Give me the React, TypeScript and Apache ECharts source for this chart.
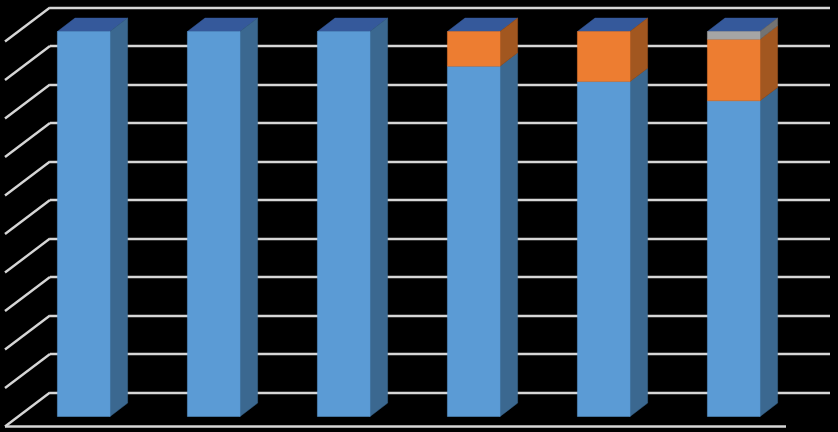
import React, { useEffect, useRef } from "react";
import * as echarts from "echarts";

const categories = ["1", "2", "3", "4", "5", "6"];
const blueValues = [100, 100, 100, 91, 87, 82];
const orangeValues = [0, 0, 0, 9, 13, 16];
const greyValues = [0, 0, 0, 0, 0, 2];
const wallTicks = [0, 10, 20, 30, 40, 50, 60, 70, 80, 90, 100];

const WIDTH = 838;
const HEIGHT = 432;
const BAR_WIDTH = 52.6;
const DEPTH_X = 17.6;
const DEPTH_Y = 13.4;
const WALL_DX = -45;
const WALL_DY = 34;
const FLOOR_LENGTH = 781;
const LINE = { stroke: "#d6d6d6", lineWidth: 2.4 };

function stackOf(lower: number[][], values: number[]) {
  return values.map((v, i) => {
    const start = lower.reduce((sum, s) => sum + s[i], 0);
    return [i, start, start + v];
  });
}

function poly(points: number[][], fill: string) {
  return { type: "polygon", shape: { points }, style: { fill, stroke: fill, lineWidth: 0.5 } };
}

function blockSeries(name: string, data: number[][], front: string, side: string) {
  return {
    name,
    type: "custom",
    xAxisIndex: 1,
    yAxisIndex: 1,
    z: 5,
    data,
    renderItem: (_: any, api: any) => {
      const a = api.coord([api.value(0), api.value(1)]);
      const b = api.coord([api.value(0), api.value(2)]);
      if (api.value(2) <= api.value(1)) return { type: "group", children: [] };
      const l = a[0] - BAR_WIDTH / 2;
      const r = a[0] + BAR_WIDTH / 2;
      return {
        type: "group",
        children: [
          poly([[r, a[1]], [r + DEPTH_X, a[1] - DEPTH_Y], [r + DEPTH_X, b[1] - DEPTH_Y], [r, b[1]]], side),
          poly([[l, a[1]], [r, a[1]], [r, b[1]], [l, b[1]]], front),
        ],
      };
    },
  };
}

export default function App() {
  const ref = useRef<HTMLDivElement>(null);
  useEffect(() => {
    document.body.style.margin = "0";
    document.body.style.background = "#000";
    const chart = echarts.init(ref.current!, undefined, { renderer: "svg" });
    const hiddenParts = {
      axisLine: { show: false },
      axisTick: { show: false },
      axisLabel: { show: false },
    };
    chart.setOption({
      animation: false,
      backgroundColor: "#000",
      tooltip: { show: false },
      grid: [
        { left: 50, right: 8, top: 7.5, bottom: 39.5 },
        { left: 18.7, right: 39.3, top: 31.5, bottom: 15.5 },
      ],
      xAxis: [
        { type: "value", gridIndex: 0, min: 0, max: 1, splitLine: { show: false }, ...hiddenParts },
        { type: "category", gridIndex: 1, data: categories, splitLine: { show: false }, ...hiddenParts },
      ],
      yAxis: [
        {
          type: "value",
          gridIndex: 0,
          min: 0,
          max: 100,
          interval: 10,
          splitLine: { show: true, lineStyle: { color: LINE.stroke, width: LINE.lineWidth } },
          ...hiddenParts,
        },
        { type: "value", gridIndex: 1, min: 0, max: 100, interval: 10, splitLine: { show: false }, ...hiddenParts },
      ],
      series: [
        {
          name: "wall",
          type: "custom",
          xAxisIndex: 0,
          yAxisIndex: 0,
          z: 1,
          data: wallTicks.map((t) => [0, t]),
          renderItem: (_: any, api: any) => {
            const p = api.coord([api.value(0), api.value(1)]);
            const q = [p[0] + WALL_DX, p[1] + WALL_DY];
            const children: any[] = [
              { type: "line", shape: { x1: p[0], y1: p[1], x2: q[0], y2: q[1] }, style: LINE },
            ];
            if (api.value(1) === 0) {
              children.push({
                type: "line",
                shape: { x1: q[0], y1: q[1], x2: q[0] + FLOOR_LENGTH, y2: q[1] },
                style: LINE,
              });
            }
            return { type: "group", children };
          },
        },
        {
          name: "top",
          type: "custom",
          xAxisIndex: 1,
          yAxisIndex: 1,
          z: 5,
          data: categories.map((_, i) => [i, blueValues[i] + orangeValues[i] + greyValues[i]]),
          renderItem: (_: any, api: any) => {
            const p = api.coord([api.value(0), api.value(1)]);
            const l = p[0] - BAR_WIDTH / 2;
            const r = p[0] + BAR_WIDTH / 2;
            return poly(
              [[l, p[1]], [r, p[1]], [r + DEPTH_X, p[1] - DEPTH_Y], [l + DEPTH_X, p[1] - DEPTH_Y]],
              "#35599b"
            );
          },
        },
        blockSeries("blue", stackOf([], blueValues), "#5b9bd5", "#3b6890"),
        blockSeries("orange", stackOf([blueValues], orangeValues), "#ed7d31", "#a25720"),
        blockSeries("grey", stackOf([blueValues, orangeValues], greyValues), "#a5a5a5", "#737373"),
      ],
    });
    return () => chart.dispose();
  }, []);
  return (
    <div
      ref={ref}
      style={{ position: "fixed", left: 0, top: 0, width: WIDTH, height: HEIGHT, background: "#000" }}
    />
  );
}
